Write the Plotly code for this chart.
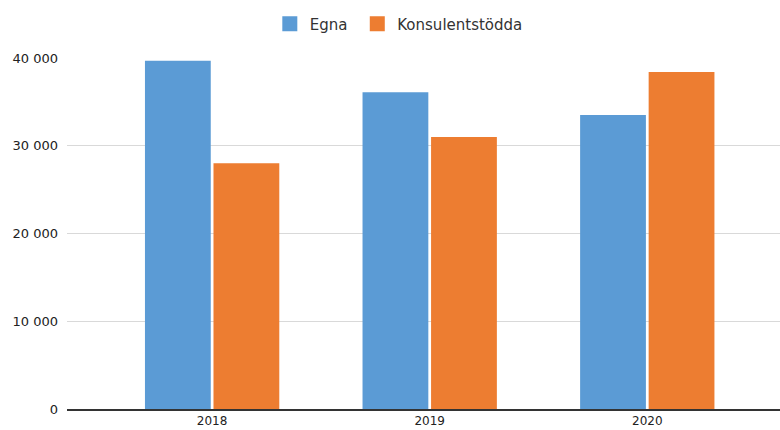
import plotly.graph_objects as go

years = ["2018", "2019", "2020"]
egna = [39700, 36100, 33500]
konsult = [28000, 31000, 38400]
y_ticks = [0, 10000, 20000, 30000, 40000]
y_ticktext = ["0", "10 000", "20 000", "30 000", "40 000"]
colors = ["#5B9BD5", "#ED7D31"]
names = ["Egna", "Konsulentstödda"]
legend_labels = ["Egna\u00a0", "Konsulentstödda"]

fig = go.Figure()
for name, vals, col in zip(names, [egna, konsult], colors):
    fig.add_trace(go.Bar(name=name, x=years, y=vals, marker_color=col,
                         marker_line_width=0, showlegend=False))
for label, col in zip(legend_labels, colors):
    fig.add_trace(go.Scatter(name=label, x=[None], y=[None], mode="markers",
                             marker=dict(symbol="square", size=15, color=col),
                             showlegend=True))

fig.update_layout(
    width=780, height=430,
    margin=dict(l=67, r=0, t=58, b=21),
    barmode="group", bargap=0.37, bargroupgap=0.04,
    plot_bgcolor="white", paper_bgcolor="white",
    font=dict(family="DejaVu Sans", size=12, color="#222222"),
    legend=dict(orientation="h", x=0.5113, xanchor="center", xref="container",
                y=0.944, yanchor="middle", yref="container",
                font=dict(family="DejaVu Sans", size=15, color="#333333"),
                traceorder="normal"),
    xaxis=dict(type="category", range=[-0.667, 2.61], showgrid=False,
               showline=True, linecolor="#333333", linewidth=1.5,
               ticks="", tickfont=dict(size=12)),
    yaxis=dict(range=[0, 40000], tickvals=y_ticks, ticktext=y_ticktext,
               showgrid=True, gridcolor="#d9d9d9", gridwidth=1, zeroline=False,
               ticks="", tickfont=dict(size=13), ticklabelstandoff=8),
)
fig.write_html("out.html", config={"displayModeBar": False},
               post_script="document.body.style.margin='0';document.body.style.overflow='hidden';")
